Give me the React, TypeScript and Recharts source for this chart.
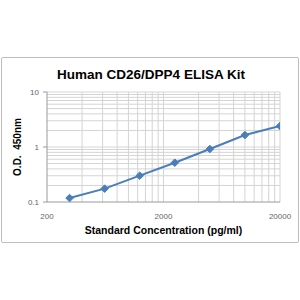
import React from 'react';
import { LineChart, Line, XAxis, YAxis, ReferenceLine, Label } from 'recharts';

// standard curve
const concentrations = [312.5, 625, 1250, 2500, 5000, 10000, 20000];
const odValues = [0.118, 0.175, 0.301, 0.518, 0.92, 1.65, 2.41];

const xTicks = [200, 2000, 20000];
const yTicks = [0.1, 1, 10];
const xGrid = [400, 600, 800, 1000, 1200, 1400, 1600, 1800, 2000, 4000, 6000, 8000, 10000, 12000, 14000, 16000, 18000, 20000];
const yGrid = [0.2, 0.3, 0.4, 0.5, 0.6, 0.7, 0.8, 0.9, 1, 2, 3, 4, 5, 6, 7, 8, 9, 10];

const data = concentrations.map((c, i) => ({ x: c, y: odValues[i] }));

const BLUE = '#4a7ebb';
const FONT = 'Liberation Sans, Arial, sans-serif';

function Diamond(props: any) {
  const { cx, cy } = props;
  if (cx == null || cy == null) return null;
  const r = 3.8;
  return (
    <path
      d={`M${cx},${cy - r}L${cx + r},${cy}L${cx},${cy + r}L${cx - r},${cy}Z`}
      fill={BLUE}
      stroke={BLUE}
    />
  );
}

export default function App() {
  const tickStyle = { fill: '#666', fontSize: 8, fontFamily: FONT };
  return (
    <div style={{ position: 'absolute', left: 0, top: 0, width: 300, height: 300, background: '#fff' }}>
      <div
        style={{
          position: 'absolute', left: 1, top: 57, width: 296, height: 184,
          border: '1px solid #bdbdbd', borderRadius: 2,
        }}
      />
      <div
        style={{
          position: 'absolute', left: 0, top: 67, width: 302, textAlign: 'center',
          fontFamily: FONT, fontWeight: 'bold', fontSize: 13.5, color: '#000',
        }}
      >
        Human CD26/DPP4 ELISA Kit
      </div>
      <LineChart
        width={300}
        height={300}
        data={data}
        margin={{ top: 92, right: 20, bottom: 78, left: 0 }}
        style={{ position: 'absolute', left: 0, top: 0 }}
      >
        <XAxis
          dataKey="x"
          type="number"
          scale="log"
          domain={[200, 20000]}
          ticks={xTicks}
          allowDataOverflow
          height={20}
          stroke="#9a9a9a"
          tickLine={false}
          tick={tickStyle}
          tickMargin={5}
        >
          <Label
            value="Standard Concentration (pg/ml)"
            position="insideBottom"
            offset={-12}
            style={{ fontFamily: FONT, fontWeight: 'bold', fontSize: 10.5, fill: '#000' }}
          />
        </XAxis>
        <YAxis
          type="number"
          scale="log"
          domain={[0.1, 10]}
          ticks={yTicks}
          allowDataOverflow
          width={47}
          stroke="#9a9a9a"
          tickSize={4}
          tick={tickStyle}
          tickMargin={4}
        >
          <Label
            value={'O.D.\u00a0\u00a0450nm'}
            angle={-90}
            position="insideLeft"
            offset={17}
            style={{ textAnchor: 'middle', fontFamily: FONT, fontWeight: 'bold', fontSize: 10, fill: '#000' }}
          />
        </YAxis>
        {xGrid.map((v) => (
          <ReferenceLine key={'x' + v} x={v} stroke="#d4d4d4" strokeWidth={1} />
        ))}
        {yGrid.map((v) => (
          <ReferenceLine key={'y' + v} y={v} stroke="#d4d4d4" strokeWidth={1} />
        ))}
        <Line
          dataKey="y"
          stroke={BLUE}
          strokeWidth={2}
          dot={<Diamond />}
          activeDot={false}
          isAnimationActive={false}
        />
      </LineChart>
    </div>
  );
}
